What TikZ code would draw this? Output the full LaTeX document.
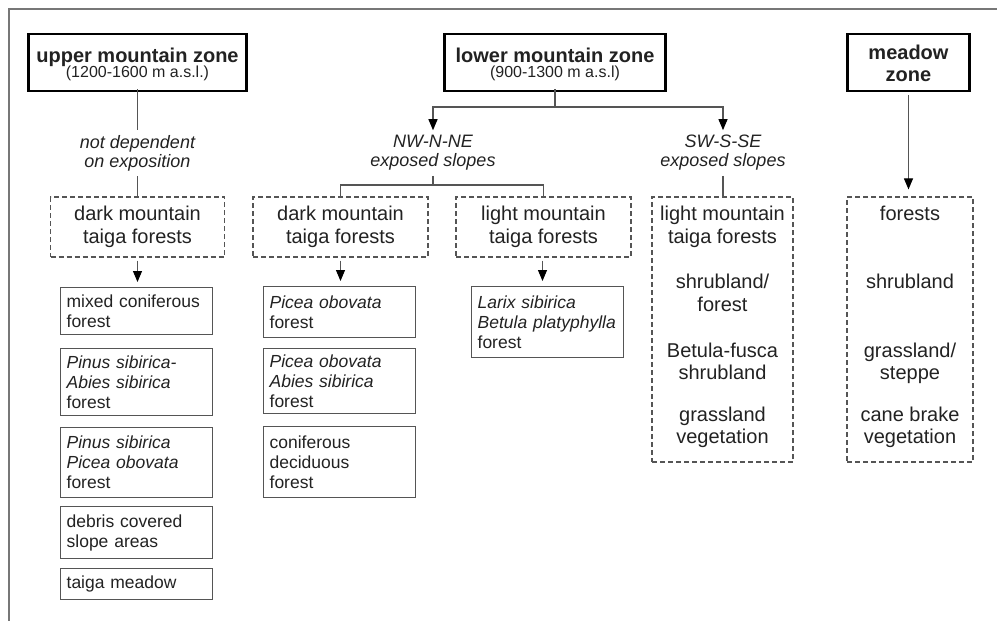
\documentclass[tikz,border=0pt]{standalone}
\usepackage{fontspec}
\setmainfont{Liberation Sans}
\usetikzlibrary{arrows.meta}
\definecolor{ink}{HTML}{222222}
\definecolor{lineg}{HTML}{555555}
\definecolor{frameg}{HTML}{777777}
\begin{document}
\begin{tikzpicture}[x=1pt,y=-1pt,
  zone/.style={draw=black, line width=2.6pt, inner sep=0pt},
  ztitle/.style={anchor=base, font=\bfseries\fontsize{20}{22}\selectfont, text=ink, inner sep=0pt},
  zsub/.style={anchor=base, font=\fontsize{16}{18}\selectfont, text=ink, inner sep=0pt},
  dbox/.style={draw=lineg, line width=1.2pt, dash pattern=on 5pt off 3pt, inner sep=0pt},
  dtext/.style={align=center, font=\fontsize{20}{23}\selectfont, text=ink},
  tline/.style={anchor=base, font=\fontsize{20}{23}\selectfont, text=ink, inner sep=0pt},
  sbox/.style={draw=lineg, line width=1.3pt, anchor=north west, align=left, text width=140pt, inner xsep=6pt, inner ysep=0pt, font=\fontsize{17.5}{20}\selectfont, text=ink},
  slope/.style={align=center, font=\itshape\fontsize{18}{19}\selectfont, text=ink, inner xsep=2pt, inner ysep=5pt},
  conn/.style={draw=lineg, line width=1.1pt},
  arr/.style={conn, -{Triangle[length=11pt,width=9pt,color=black]}}
]
\useasboundingbox (0,0) rectangle (997,621);
% frame
\draw[frameg, line width=1.3pt] (9,621) -- (9,9) -- (997,9);

% zone boxes
\node[zone, minimum width=218pt, minimum height=57pt] (up) at (137.5,62.5) {};
\node[ztitle] (upt) at (137.5,62) {upper mountain zone};
\node[zsub] (ups) at (137.5,77.5) {(1200-1600 m a.s.l.)};

\node[zone, minimum width=221pt, minimum height=57pt] (low) at (555,62.5) {};
\node[ztitle] (lowt) at (555,62) {lower mountain zone};
\node[zsub] (lows) at (555,77.5) {(900-1300 m a.s.l)};

\node[zone, minimum width=122pt, minimum height=57pt] (mz) at (908.5,62.5) {};
\node[ztitle] (mzt1) at (908.5,59) {meadow};
\node[ztitle] (mzt2) at (908.5,81) {zone};

% upper mountain branch
\node[slope] (nd) at (137.5,153) {not dependent\\on exposition};
\draw[conn] ([yshift=3pt]up.south) -- (nd.north);
\node[dbox, dtext, minimum width=174pt, minimum height=60pt] (dm1) at (137.5,227) {dark mountain\\taiga forests};
\draw[conn] (nd.south) -- (dm1.north);

\node[sbox, minimum height=47pt] (mc) at (60,287) {mixed coniferous\\forest};
\node[sbox, minimum height=67pt] (ps1) at (60,348) {\textit{Pinus sibirica-}\\\textit{Abies sibirica}\\forest};
\node[sbox, minimum height=70pt] (ps2) at (60,427) {\textit{Pinus sibirica}\\\textit{Picea obovata}\\forest};
\node[sbox, minimum height=52pt] (db) at (60,506) {debris covered\\slope areas};
\node[sbox, minimum height=31pt] (tm) at (60,568) {taiga meadow};
\draw[arr, shorten <=3pt, shorten >=5pt] (dm1.south) -- (dm1.south |- mc.north);

% lower mountain branch
\coordinate (lj) at (555,107);
\draw[conn] ([yshift=3pt]low.south) -- (lj);
\node[slope] (nw) at (433,153) {NW-N-NE\\exposed slopes};
\node[slope] (sw) at (723,153) {SW-S-SE\\exposed slopes};
\draw[arr] (lj) -| (nw.north);
\draw[arr] (lj) -| (sw.north);

\node[dbox, dtext, minimum width=175pt, minimum height=60pt] (dm2) at (340.5,227) {dark mountain\\taiga forests};
\node[dbox, dtext, minimum width=175pt, minimum height=60pt] (lm) at (543.5,227) {light mountain\\taiga forests};
\coordinate (nwj) at (433,185);
\draw[conn] (nw.south) -- (nwj);
\draw[conn] (dm2.north) -- (dm2.north |- nwj) -- (lm.north |- nwj) -- (lm.north);

\node[sbox, minimum height=51pt] (po) at (263,286) {\textit{Picea obovata}\\forest};
\node[sbox, minimum height=65pt] (pa) at (263,348) {\textit{Picea obovata}\\\textit{Abies sibirica}\\forest};
\node[sbox, minimum height=71pt] (cd) at (263,426) {coniferous\\deciduous\\forest};
\draw[arr, shorten <=3pt, shorten >=5pt] (dm2.south) -- (dm2.south |- po.north);

\node[sbox, minimum height=71pt] (lb) at (471,286) {\textit{Larix sibirica}\\\textit{Betula platyphylla}\\forest};
\draw[arr, shorten <=3pt, shorten >=5pt] ([xshift=-1pt]lm.south) -- ([xshift=-1pt]lm.south |- lb.north);

% SW-S-SE box
\node[dbox, minimum width=141pt, minimum height=265pt] (swb) at (722.5,329.5) {};
\draw[conn] (sw.south) -- (sw.south |- swb.north);
\node[tline] (sw1) at (722.5,220) {light mountain};
\node[tline] (sw2) at (722.5,243) {taiga forests};
\node[tline] (sw3) at (722.5,288) {shrubland/};
\node[tline] (sw4) at (722.5,311) {forest};
\node[tline] (sw5) at (722.5,357) {Betula-fusca};
\node[tline] (sw6) at (722.5,379) {shrubland};
\node[tline] (sw7) at (722.5,421) {grassland};
\node[tline] (sw8) at (722.5,443) {vegetation};

% meadow box
\node[dbox, minimum width=126pt, minimum height=265pt] (mb) at (910,329.5) {};
\draw[arr, shorten <=3pt, shorten >=7pt] (mz.south) -- (mz.south |- mb.north);
\node[tline] (mb1) at (910,220) {forests};
\node[tline] (mb2) at (910,288) {shrubland};
\node[tline] (mb3) at (910,357) {grassland/};
\node[tline] (mb4) at (910,379) {steppe};
\node[tline] (mb5) at (910,421) {cane brake};
\node[tline] (mb6) at (910,443) {vegetation};
\end{tikzpicture}
\end{document}
